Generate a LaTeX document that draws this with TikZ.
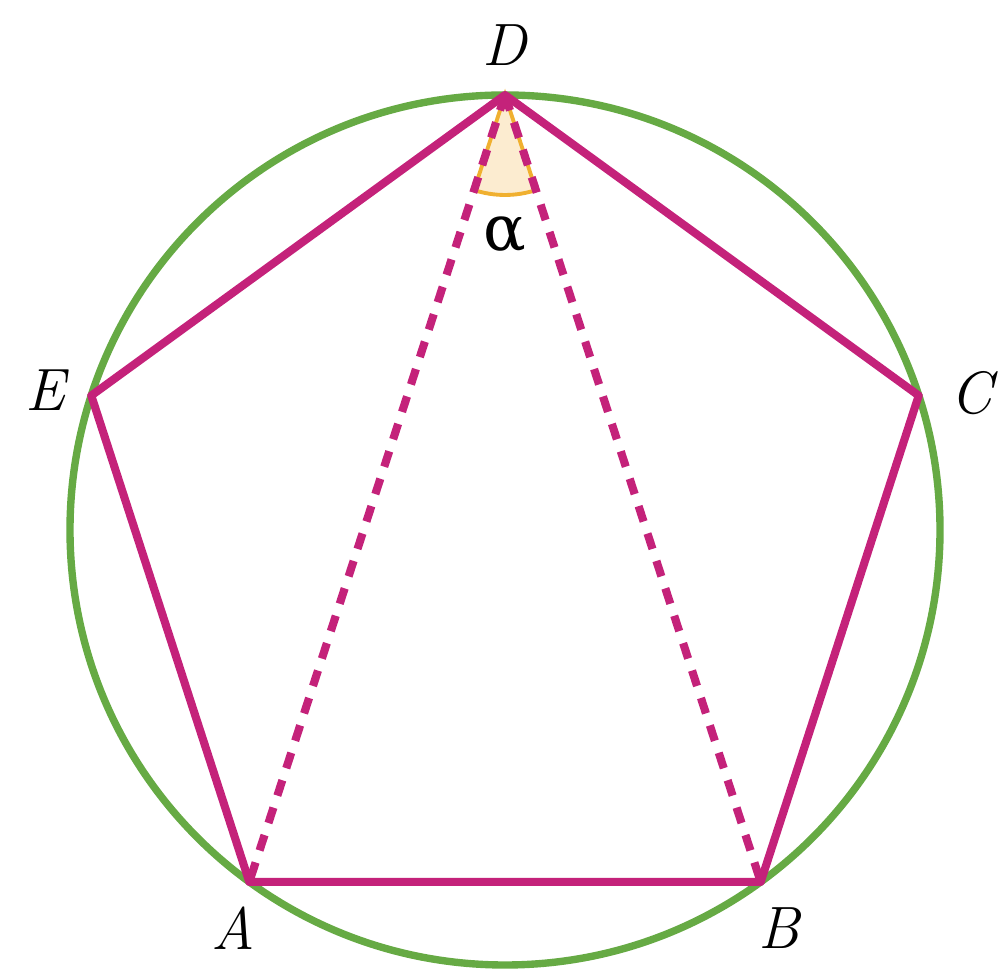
\documentclass[tikz,border=0pt]{standalone}
\usepackage{fontspec}
\newfontfamily\greekfont{DejaVu Serif}
\definecolor{edgepink}{RGB}{196,34,122}
\definecolor{circgreen}{RGB}{102,170,68}
\definecolor{angorange}{RGB}{240,176,48}
\definecolor{angfill}{RGB}{252,236,208}
\begin{document}
\begin{tikzpicture}[side/.style={edgepink,line width=2.3pt,line join=round},
  diag/.style={edgepink,line width=2.3pt,dash pattern=on 4.6pt off 3.6pt},
  vlabel/.style={font=\fontsize{17}{20}\selectfont\itshape}]
\useasboundingbox (-5.05,-4.47) rectangle (4.95,5.30);

\coordinate (D) at (90:4.35);
\coordinate (C) at (18:4.35);
\coordinate (B) at (-54:4.35);
\coordinate (A) at (-126:4.35);
\coordinate (E) at (162:4.35);

\fill[angfill] (D) -- ++(252:1.0) arc (252:288:1.0) -- cycle;
\draw[angorange,line width=1.1pt] (D) -- ++(252:1.0) arc (252:288:1.0) -- cycle;

\draw[circgreen,line width=2.1pt] (0,0) circle (4.35cm);

\draw[diag] (D) -- (A);
\draw[diag] (D) -- (B);
\draw[side] (A) -- (B) -- (C) -- (D) -- (E) -- cycle;

\node [vlabel] (lab-D) at (0,4.85) {D};
\node [vlabel] (lab-C) at (4.66,1.37) {C};
\node [vlabel] (lab-B) at (2.74,-3.98) {B};
\node [vlabel] (lab-A) at (-2.72,-3.98) {A};
\node [vlabel] (lab-E) at (-4.60,1.40) {E};
\node [font=\fontsize{18}{21}\selectfont\greekfont] (lab-alpha) at (0,2.95) {α};

\end{tikzpicture}
\end{document}
